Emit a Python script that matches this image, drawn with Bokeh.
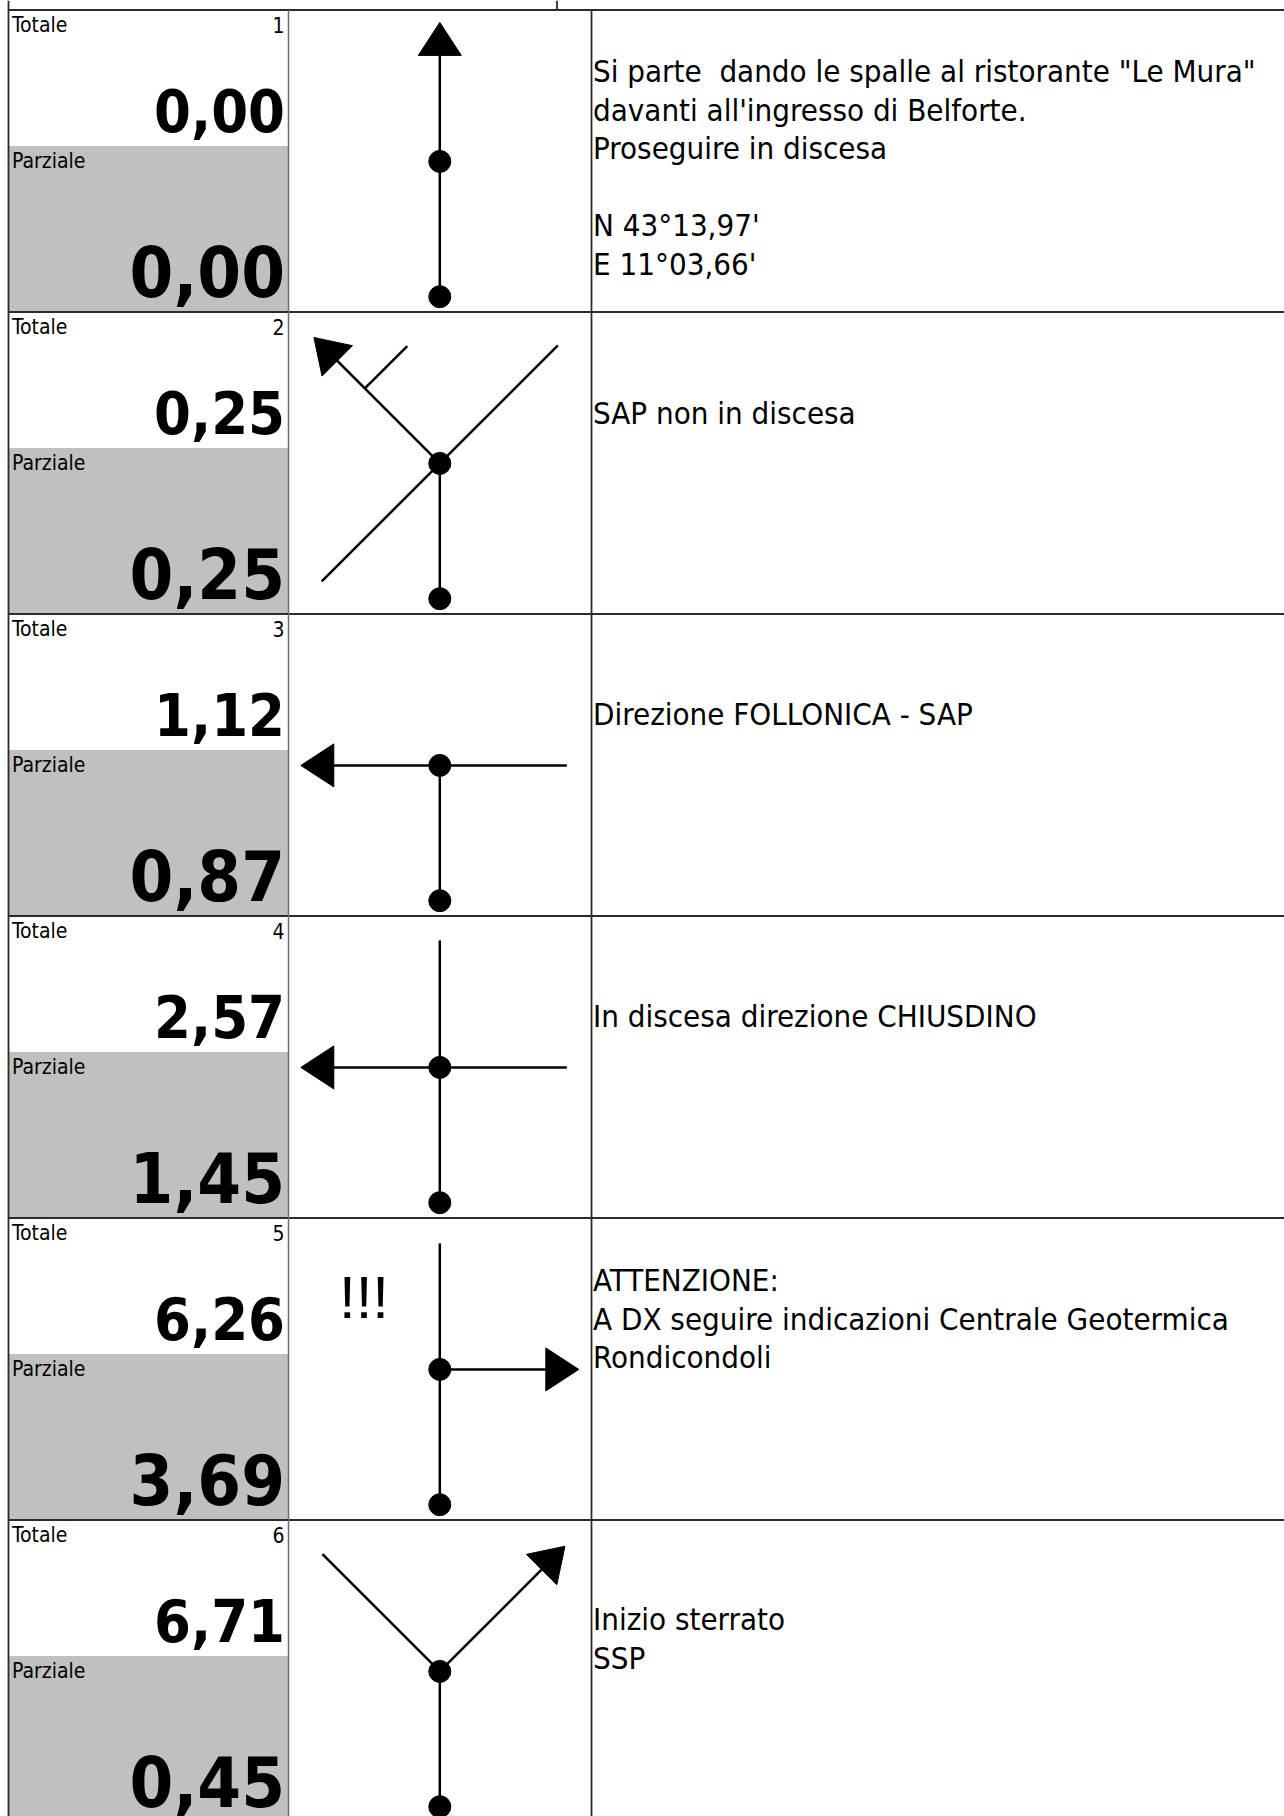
import math
from bokeh.plotting import figure
from bokeh.models import Range1d, ColumnDataSource
from bokeh.core.properties import value
from bokeh.embed import file_html
from bokeh.resources import INLINE

# ---------------- data ----------------
steps = [1, 2, 3, 4, 5, 6]
totals = [0.00, 0.25, 1.12, 2.57, 6.26, 6.71]
partials = [0.00, 0.25, 0.87, 1.45, 3.69, 0.45]
descriptions = [
    ['Si parte \u00a0dando le spalle al ristorante "Le Mura"',
     "davanti all'ingresso di Belforte.",
     "Proseguire in discesa",
     "",
     "N 43°13,97'",
     "E 11°03,66'"],
    ["SAP non in discesa"],
    ["Direzione FOLLONICA - SAP"],
    ["In discesa direzione CHIUSDINO"],
    ["ATTENZIONE:",
     "A DX seguire indicazioni Centrale Geotermica",
     "Rondicondoli"],
    ["Inizio sterrato", "SSP"],
]
warnings = ["", "", "", "", "!!!", ""]
# direction to follow (degrees, 90 = straight on) and length of that road
arrow_angle = [90, 135, 180, 180, 0, 45]
arrow_length = [139, 178, 139, 139, 139, 177]
# other roads leaving the junction
branch_angles = [[], [45, 225], [0], [0, 90], [90], [135]]
branch_lengths = [[], [167, 167], [127], [127, 127], [126], [166]]
# small side mark on the arrow road (distance from junction, 0 = none)
tick_at = [0, 106, 0, 0, 0, 0]

label_total = "Totale"
label_partial = "Parziale"

# ---------------- layout (pixels) ----------------
W, H = 1284, 1816
FONT = "DejaVu Sans Condensed, DejaVu Sans"
BL = 0.36          # baseline correction (fraction of font size)
TABLE_TOP = 9.5
ROW_H = 302
LEFT = 8
COL1 = 288
COL2 = 591
TOP_MID = 556.5
GRAY_OFF = 136
CX = 439.3
CENTER_OFF = 151.4
BOTTOM_OFF = 286.7
HEAD_LEN = 33
HEAD_HALF = 21.5
TICK_LEN = 60
DESC_X = 592.5
DESC_FIRST = [72.5, 111.8, 111, 111, 73.5, 110.5]
DESC_STEP = 38.5
S_LABEL, S_TOT, S_PAR, S_DESC, S_WARN = 21, 59, 70, 31, 60

p = figure(width=W, height=H, x_range=Range1d(0, W), y_range=Range1d(H, 0),
           output_backend="svg", toolbar_location=None, min_border=0,
           x_axis_type=None, y_axis_type=None)
p.grid.visible = False
p.outline_line_color = None
p.background_fill_color = "white"

n = len(steps)
row_tops = [TABLE_TOP + i * ROW_H for i in range(n)]

# gray "Parziale" boxes
p.quad(left=[LEFT] * n, right=[COL1] * n,
       top=[t + GRAY_OFF for t in row_tops], bottom=[t + ROW_H for t in row_tops],
       fill_color="#c0c0c0", line_color=None)

# table rules
p.segment(x0=[LEFT] * n, x1=[W] * n, y0=row_tops, y1=row_tops,
          line_color="#2b2b2b", line_width=2)
p.segment(x0=[LEFT, COL2, TOP_MID], x1=[LEFT, COL2, TOP_MID],
          y0=[0, TABLE_TOP, 0], y1=[H, H, TABLE_TOP],
          line_color="#2b2b2b", line_width=1.8)
p.segment(x0=[COL1], x1=[COL1], y0=[TABLE_TOP], y1=[H],
          line_color="#6e6e6e", line_width=1.5)


def add_text(xs, ys, texts, size, align="left", bold=False, font=FONT):
    src = ColumnDataSource(dict(x=xs, y=[y - BL * size for y in ys], text=texts))
    p.text(x="x", y="y", text="text", source=src, text_font=value(font),
           text_font_size=f"{size}px", text_font_style="bold" if bold else "normal",
           text_baseline="alphabetic", text_align=align, text_color="black")


def fmt(v):
    return f"{v:.2f}".replace(".", ",")


# column 1 texts
add_text([LEFT + 3.5] * n, [t + 22.2 for t in row_tops], [label_total] * n, S_LABEL)
add_text([LEFT + 3.5] * n, [t + GRAY_OFF + 22.5 for t in row_tops], [label_partial] * n, S_LABEL)
add_text([COL1 - 4] * n, [t + 22.2 for t in row_tops], [str(s) for s in steps], S_LABEL, "right")
add_text([COL1 - 3.5] * n, [t + 121.5 for t in row_tops], [fmt(v) for v in totals], S_TOT, "right", True)
add_text([COL1 - 3.5] * n, [t + 286.5 for t in row_tops], [fmt(v) for v in partials], S_PAR, "right", True)

# descriptions
dx, dy, dt = [], [], []
for i, lines in enumerate(descriptions):
    for j, line in enumerate(lines):
        if line:
            dx.append(DESC_X)
            dy.append(row_tops[i] + DESC_FIRST[i] + j * DESC_STEP)
            dt.append(line)
add_text(dx, dy, dt, S_DESC)

# warnings
wx, wy, wt = [], [], []
for i, w in enumerate(warnings):
    if w:
        wx.append(363.5)
        wy.append(row_tops[i] + 101.5)
        wt.append(w)
add_text(wx, wy, wt, S_WARN, "center", False, "Liberation Sans")


# diagrams
def unit(a):
    r = math.radians(a)
    return math.cos(r), -math.sin(r)


lx, ly = [], []
hx, hy = [], []
dotx, doty = [], []
for i in range(n):
    cy = row_tops[i] + CENTER_OFF
    by = row_tops[i] + BOTTOM_OFF
    # incoming road
    lx.append([CX, CX]); ly.append([cy, by])
    # roads not taken
    for a, L in zip(branch_angles[i], branch_lengths[i]):
        ux, uy = unit(a)
        lx.append([CX, CX + L * ux]); ly.append([cy, cy + L * uy])
    # road to follow
    a, L = arrow_angle[i], arrow_length[i]
    ux, uy = unit(a)
    px, py = -uy, ux
    bl = L - HEAD_LEN
    lx.append([CX, CX + (bl + 2) * ux]); ly.append([cy, cy + (bl + 2) * uy])
    bxc, byc = CX + bl * ux, cy + bl * uy
    hx.append([CX + L * ux, bxc + HEAD_HALF * px, bxc - HEAD_HALF * px])
    hy.append([cy + L * uy, byc + HEAD_HALF * py, byc - HEAD_HALF * py])
    if tick_at[i]:
        tx, ty = CX + tick_at[i] * ux, cy + tick_at[i] * uy
        tux, tuy = unit(a - 90)
        lx.append([tx, tx + TICK_LEN * tux]); ly.append([ty, ty + TICK_LEN * tuy])
    dotx += [CX, CX]
    doty += [cy, by]

p.multi_line(xs=lx, ys=ly, line_color="black", line_width=2.5)
p.patches(xs=hx, ys=hy, fill_color="black", line_color="black", line_width=1)
p.scatter(x=dotx, y=doty, size=22, marker="circle", fill_color="black", line_color="black")

open("out.html", "w").write(file_html(p, INLINE))
